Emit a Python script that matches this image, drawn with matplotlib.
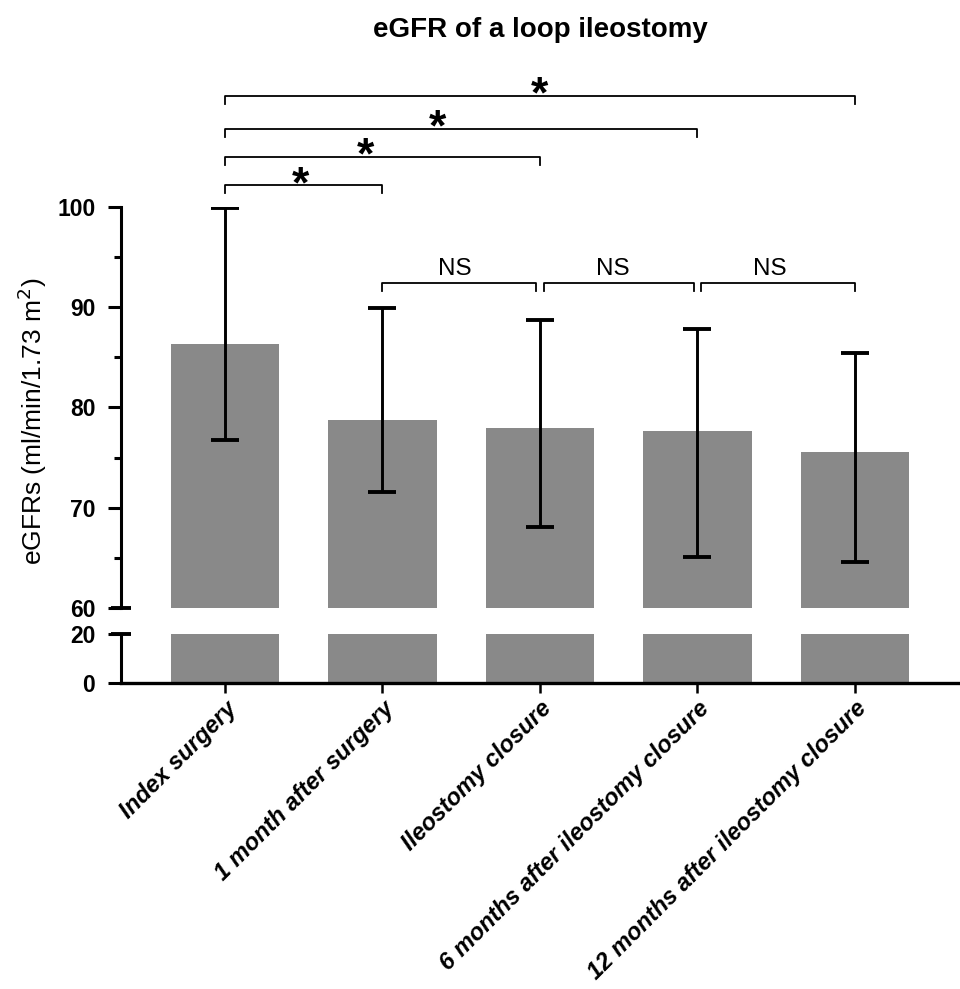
import matplotlib
matplotlib.use("Agg")
import matplotlib.pyplot as plt
from matplotlib.ticker import FixedLocator

plt.rcParams["font.family"] = ["Liberation Sans", "DejaVu Sans"]

# data
groups = ["Index surgery", "1 month after surgery", "Ileostomy closure",
          "6 months after ileostomy closure", "12 months after ileostomy closure"]
means = [86.3, 78.75, 78.0, 77.65, 75.6]
err_hi = [99.9, 89.95, 88.7, 87.8, 85.45]
err_lo = [76.8, 71.6, 68.1, 65.1, 64.6]

# significance brackets: (i, j, label)
sig_pairs = [(0, 1, "*"), (0, 2, "*"), (0, 3, "*"), (0, 4, "*")]
sig_levels = [102.2, 105.0, 107.8, 111.1]
ns_pairs = [(1, 2, "NS"), (2, 3, "NS"), (3, 4, "NS")]
ns_level = 92.45

BAR = "#898989"
W, H = 960, 989
fig = plt.figure(figsize=(W / 100, H / 100), dpi=100)

left = 121 / W
width = 1 - left
ax_top = fig.add_axes([left, (H - 608) / H, width, (608 - 207) / H])
ax_bot = fig.add_axes([left, (H - 683) / H, width, (683 - 634) / H], sharex=ax_top)

x = list(range(len(groups)))
xlim = (-0.66, 4.667)

for ax in (ax_top, ax_bot):
    ax.bar(x, means, width=0.69, color=BAR, zorder=1)
    ax.set_xlim(*xlim)
    for s in ("top", "right"):
        ax.spines[s].set_visible(False)
    ax.spines["left"].set_linewidth(2.2)
    ax.tick_params(axis="y", which="major", length=9.5, width=2.2, pad=9,
                   labelsize=16.5)

yerr = [[m - lo for m, lo in zip(means, err_lo)],
        [hi - m for m, hi in zip(means, err_hi)]]
ax_top.errorbar(x, means, yerr=yerr, fmt="none", ecolor="black",
                elinewidth=2.1, capsize=10, capthick=2.8, zorder=3)

# upper panel
ax_top.set_ylim(60, 100)
ax_top.spines["bottom"].set_visible(False)
ax_top.spines["left"].set_bounds(60, 100)
ax_top.yaxis.set_major_locator(FixedLocator([60, 70, 80, 90, 100]))
ax_top.yaxis.set_minor_locator(FixedLocator([65, 75, 85, 95]))
ax_top.tick_params(axis="y", which="minor", length=5, width=2.2)
ax_top.tick_params(axis="x", which="both", bottom=False, labelbottom=False)
ax_top.set_yticklabels(["60", "70", "80", "90", "100"], fontweight="bold")

# lower panel
ax_bot.set_ylim(0, 20)
ax_bot.set_yticks([0, 20])
ax_bot.set_yticklabels(["0", "20"], fontweight="bold")
ax_bot.spines["bottom"].set_linewidth(2.4)
ax_bot.set_xticks(x)
ax_bot.set_xticklabels(groups, rotation=45, ha="right", va="top",
                       rotation_mode="anchor", fontsize=17,
                       fontweight="bold", fontstyle="italic")
ax_bot.tick_params(axis="x", length=7, width=1.8, pad=3)

# break caps on the y axis
ax_top.plot([xlim[0]], [60], marker="_", ms=14, mew=2.8, color="black",
            clip_on=False, zorder=5)
ax_bot.plot([xlim[0]], [20], marker="_", ms=14, mew=2.8, color="black",
            clip_on=False, zorder=5)

# brackets
tick_h = 0.8
for (i, j, lab), lev in zip(sig_pairs, sig_levels):
    ax_top.plot([i, i, j, j], [lev - tick_h, lev, lev, lev - tick_h],
                color="black", lw=1.3, clip_on=False)
star_x = [0.48, 0.89, 1.35, 2.0]
for sx, lev in zip(star_x, sig_levels):
    ax_top.text(sx, lev - 1.2, "*", ha="center", va="baseline",
                fontsize=32, fontweight="bold", clip_on=False)

gap = 0.025
for i, j, lab in ns_pairs:
    a = i + (gap if i > 1 else 0)
    b = j - (gap if j < 4 else 0)
    ax_top.plot([a, a, b, b], [ns_level - tick_h, ns_level, ns_level, ns_level - tick_h],
                color="black", lw=1.3, clip_on=False)
    ax_top.text((i + j) / 2 - 0.04, ns_level + 0.75, lab, ha="center",
                va="baseline", fontsize=17.5)

fig.text((121 + 960) / 2 / W, 1 - 30 / H, "eGFR of a loop ileostomy",
         ha="center", va="center", fontsize=20, fontweight="bold")
fig.text(32 / W, 1 - 421 / H, "eGFRs (ml/min/1.73 m$^2$)", rotation=90,
         ha="center", va="center", fontsize=19)

fig.savefig("out.png", dpi=100)
